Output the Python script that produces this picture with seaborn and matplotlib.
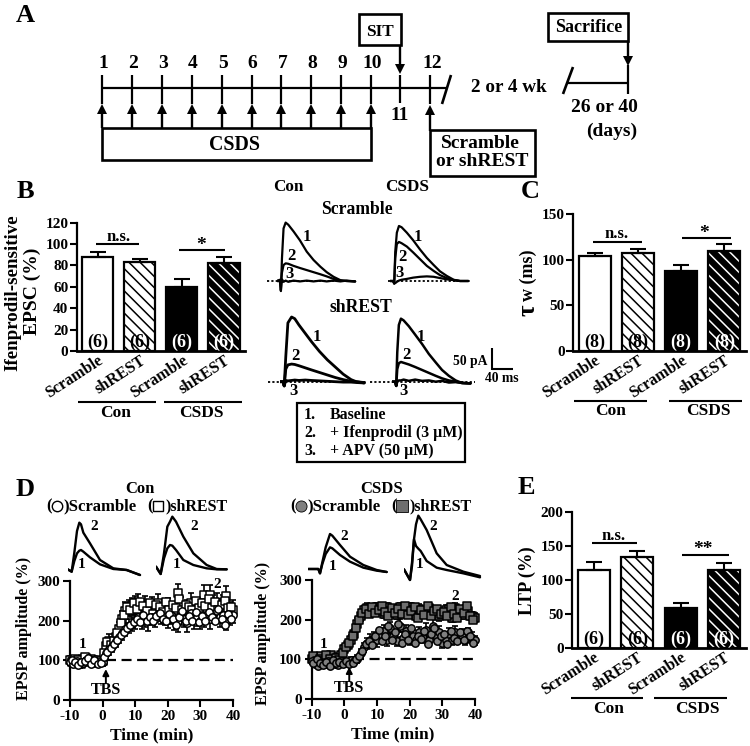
"""Multi-panel figure: CSDS timeline, NMDA EPSC bars, LTP time courses."""
import matplotlib
matplotlib.use("Agg")
import matplotlib.pyplot as plt
from matplotlib.patches import Rectangle
from matplotlib.transforms import ScaledTranslation
import seaborn as sns

W, H = 750, 746

# ============================================
# Data
# ============================================
GROUPS = ["Con Scramble", "Con shREST", "CSDS Scramble", "CSDS shREST"]
BAR_LABELS = ["Scramble", "shREST", "Scramble", "shREST"]

B_VALUES = [88, 83, 59.5, 82]
B_ERRORS = [5, 3.5, 7.5, 5.5]
B_NS = ["(6)", "(6)", "(6)", "(6)"]
B_TICKS = [0, 20, 40, 60, 80, 100, 120]

C_VALUES = [104, 107, 88, 110]
C_ERRORS = [3, 5, 6, 7]
C_NS = ["(8)", "(8)", "(8)", "(8)"]
C_TICKS = [0, 50, 100, 150]

E_VALUES = [115, 134, 59, 114]
E_ERRORS = [12, 9, 7, 11]
E_NS = ["(6)", "(6)", "(6)", "(6)"]
E_TICKS = [0, 50, 100, 150, 200]

TIME_MIN = list(range(-10, 41))
TIME_HALF = [t + 0.5 for t in range(-10, 40)]
D_XTICKS = [-10, 0, 10, 20, 30, 40]
D_YTICKS = [0, 100, 200, 300]

CON_SCR = [97, 92, 98, 90, 94, 100, 103, 99, 95, 97,
           95, 118, 128, 135, 148, 158, 168, 178, 186, 192,
           198, 210, 200, 205, 198, 208, 205, 218, 212, 208,
           204, 215, 202, 198, 212, 205, 195, 220, 205, 210,
           200, 208, 215, 205, 218, 225, 208, 215, 200, 210,
           215]
CON_SCR_H = [100, 95, 88, 96, 98, 105, 92, 101, 90, 94,
             108, 122, 130, 142, 152, 165, 172, 182, 190, 196,
             205, 196, 215, 200, 210, 198, 212, 220, 205, 200,
             218, 205, 190, 208, 225, 198, 212, 200, 222, 196,
             212, 198, 222, 208, 200, 230, 205, 190, 218, 205]
CON_SCR_ERR = [8, 10, 7, 9, 8, 10, 9, 11, 8, 12,
               10, 12, 14, 15, 14, 15, 16, 16, 18, 17,
               20, 22, 20, 22, 24, 20, 22, 18, 20, 20,
               22, 24, 25, 26, 24, 22, 24, 20, 26, 24,
               22, 24, 22, 26, 24, 20, 24, 22, 24, 22,
               20]
CON_SH = [102, 98, 95, 100, 104, 105, 99, 100, 97, 96,
          98, 135, 150, 142, 160, 178, 205, 225, 232, 236,
          238, 240, 228, 235, 222, 238, 232, 245, 228, 235,
          232, 225, 226, 269, 238, 222, 230, 245, 232, 228,
          235, 265, 232, 265, 238, 245, 232, 240, 262, 225,
          228]
CON_SH_H = [96, 104, 100, 92, 108, 97, 103, 94, 101, 99,
            118, 145, 138, 150, 170, 195, 215, 235, 228, 245,
            230, 248, 238, 225, 245, 218, 240, 235, 222, 248,
            228, 240, 232, 255, 226, 240, 235, 228, 250, 232,
            245, 238, 255, 232, 248, 228, 240, 250, 232, 235]
CON_SH_ERR = [8, 9, 8, 10, 9, 8, 10, 9, 8, 10,
              10, 14, 16, 15, 16, 18, 20, 22, 20, 22,
              24, 26, 22, 28, 24, 22, 20, 22, 22, 20,
              24, 22, 20, 24, 22, 24, 22, 24, 22, 24,
              22, 24, 26, 24, 26, 24, 22, 24, 26, 22,
              24]
CSDS_SCR = [95, 88, 84, 90, 87, 95, 92, 88, 85, 96,
            92, 90, 98, 95, 102, 115, 130, 140, 150, 155,
            148, 165, 172, 150, 178, 160, 145, 185, 155, 172,
            150, 160, 148, 168, 155, 175, 150, 185, 158, 170,
            140, 150, 165, 148, 170, 155, 162, 150, 168, 155,
            148]
CSDS_SCR_H = [90, 100, 92, 86, 94, 84, 98, 90, 93, 88,
              95, 88, 92, 100, 108, 122, 138, 145, 135, 160,
              175, 145, 160, 185, 150, 170, 190, 140, 165, 148,
              178, 142, 160, 152, 172, 138, 165, 180, 145, 160,
              165, 138, 172, 155, 145, 168, 150, 172, 160, 142]
CSDS_SCR_ERR = [7, 8, 6, 8, 7, 9, 8, 7, 8, 9,
                8, 8, 9, 10, 10, 11, 12, 14, 15, 14,
                16, 15, 14, 16, 15, 14, 12, 16, 14, 15,
                14, 15, 13, 14, 15, 16, 14, 16, 13, 15,
                12, 14, 15, 12, 13, 12, 14, 13, 12, 13,
                12]
CSDS_SH = [100, 105, 92, 108, 98, 105, 110, 96, 105, 112,
           125, 135, 150, 165, 190, 208, 225, 230, 222, 228,
           232, 228, 215, 232, 222, 225, 212, 232, 225, 218,
           232, 225, 210, 228, 215, 222, 230, 212, 218, 208,
           215, 225, 228, 205, 230, 218, 212, 225, 222, 208,
           205]
CSDS_SH_H = [108, 96, 102, 95, 110, 100, 92, 104, 98, 115,
             130, 142, 158, 178, 200, 218, 226, 215, 232, 218,
             225, 235, 220, 208, 230, 218, 228, 215, 235, 212,
             222, 232, 205, 225, 212, 235, 208, 222, 228, 215,
             220, 210, 232, 215, 205, 228, 218, 235, 210, 198]
CSDS_SH_ERR = [8, 9, 7, 9, 8, 9, 8, 8, 9, 8,
               10, 10, 12, 12, 13, 12, 10, 12, 10, 12,
               10, 12, 11, 10, 12, 11, 10, 10, 12, 10,
               11, 12, 10, 12, 11, 10, 12, 10, 11, 12,
               11, 12, 10, 12, 11, 12, 10, 12, 11, 12,
               12]

# whole-cell traces, ms and pA from the start of the sweep
T_EPSC = [0, 6, 8, 10, 13, 17, 22, 32, 44, 57, 70, 83, 95, 108, 121, 133, 149]
T_EPSC_SH = [0, 6, 8, 11, 15, 22, 28, 36, 48, 60, 75, 90, 105, 120, 135, 145, 160]
CON_SCR_1 = [0, 0, -24, 54, 125, 139, 134, 118, 97, 70, 50, 34, 21, 10, 2, 0, -1]
CON_SCR_2 = [0, 0, -5, 20, 38, 42, 41, 36, 31, 26, 21, 16, 11, 5, 1, 0, -1]
CON_SCR_3 = [0, 3, -22, 4, -2, 1, -2, 1, -1, 1, -1, 1, -1, 1, -1, 1, -1]
CSD_SCR_1 = [0, 0, -6, 70, 115, 131, 128, 115, 97, 75, 55, 38, 23, 12, 3, 0, 0]
CSD_SCR_2 = [0, 0, -6, 55, 88, 93, 90, 82, 68, 52, 36, 24, 14, 7, 2, 0, 0]
CSD_SCR_3 = [0, 0, -6, -5, -2, 1, 3, 5, 8, 10, 11, 10, 7, 4, 2, 0, 0]
CON_SHR_1 = [0, 0, -10, 60, 140, 154, 150, 135, 115, 95, 72, 52, 35, 18, 5, 0, -3]
CON_SHR_2 = [0, 0, -10, 30, 40, 42, 41, 38, 33, 28, 22, 16, 10, 5, 1, 0, -2]
CON_SHR_3 = [0, 0, -10, 3, 2, 3, 4, 3, 4, 3, 2, 1, 0, -1, -1, -2, -3]
CSD_SHR_1 = [0, 0, -10, 70, 135, 150, 146, 132, 112, 90, 66, 46, 28, 14, 3, -3, -4]
CSD_SHR_2 = [0, 0, -10, 30, 44, 47, 45, 41, 35, 28, 21, 14, 8, 3, 0, -3, -4]
CSD_SHR_3 = [0, 0, -10, 0, 3, 3, 5, 2, 5, 2, 3, 0, 2, -2, -1, -3, -4]

# field EPSP traces, arbitrary units from the start of the sweep
T_FP_A = [0, 12, 20, 28, 35, 40, 47, 67, 97, 137, 177, 217]
FP_A_2 = [0, -7, 50, 115, 140, 135, 110, 78, 28, 3, -2, -17]
FP_A_1 = [0, -7, 25, 48, 56, 58, 53, 36, 15, 1, -2, -17]
T_FP_B = [0, 14, 24, 34, 42, 49, 60, 82, 112, 152, 182, 212]
FP_B_2 = [0, -22, 40, 120, 135, 150, 135, 90, 40, 5, -7, -8]
FP_B_1 = [0, -22, 25, 55, 65, 63, 50, 20, 5, -5, -8, -8]
T_FP_C = [0, 30, 35, 42, 52, 65, 72, 95, 125, 165, 205, 235]
FP_C_2 = [0, 0, -13, 20, 65, 105, 100, 72, 37, 12, -3, -9]
FP_C_1 = [0, 0, -13, 15, 45, 65, 62, 42, 22, 4, -5, -9]
T_FP_D = [0, 18, 24, 30, 36, 43, 50, 68, 98, 128, 178, 228]
FP_D_2 = [0, -32, 10, 90, 135, 161, 150, 118, 48, 13, -7, -20]
FP_D_1 = [0, -32, 20, 90, 70, 62, 55, 25, 5, -2, -12, -24]

DAYS_TOP = ["1", "2", "3", "4", "5", "6", "7", "8", "9", "10"]

# ============================================
# Style
# ============================================
sns.set_theme(style="ticks")
plt.rcParams["font.family"] = ["Liberation Serif", "DejaVu Serif"]
plt.rcParams["font.weight"] = "bold"
plt.rcParams["axes.labelweight"] = "bold"
plt.rcParams["hatch.linewidth"] = 1.1
plt.rcParams["text.color"] = "black"
plt.rcParams["xtick.color"] = "black"
plt.rcParams["ytick.color"] = "black"
plt.rcParams["axes.edgecolor"] = "black"
plt.rcParams["axes.unicode_minus"] = False

TICK_SIZE = 11
fig = plt.figure(figsize=(W / 100, H / 100), dpi=100, facecolor="white")


def px_axes(left, top, right, bottom):
    return fig.add_axes([left / W, 1 - bottom / H, (right - left) / W, (bottom - top) / H])


ov = px_axes(0, 0, W, H)
ov.set_xlim(0, W)
ov.set_ylim(H, 0)
ov.axis("off")
ov.set_zorder(10)
ov.patch.set_visible(False)


def label(x, y, s, size=TICK_SIZE, **kw):
    kw.setdefault("ha", "center")
    kw.setdefault("va", "center")
    ov.text(x, y, s, fontsize=size, fontweight="bold", color="black", **kw)


def seg(x0, y0, x1, y1, lw=1.5, **kw):
    ov.plot([x0, x1], [y0, y1], color="black", lw=lw, solid_capstyle="butt", **kw)


def box(x0, y0, x1, y1, lw=1.9):
    ov.add_patch(Rectangle((x0, y0), x1 - x0, y1 - y0, fill=False, ec="black", lw=lw))


def up_arrow(x, tip, tail):
    seg(x, tip + 6, x, tail, lw=1.7)
    ov.plot([x], [tip + 4.5], marker="^", ms=6.5, color="black", mew=0)


def down_arrow(x, tip, tail):
    seg(x, tail, x, tip - 6, lw=1.7)
    ov.plot([x], [tip - 4.5], marker="v", ms=6.5, color="black", mew=0)


# ============================================
# Bars
# ============================================
def bar_panel(rect, values, errors, ns, ticks, ymax):
    ax = px_axes(*rect)
    sns.barplot(x=GROUPS, y=values, hue=GROUPS, palette=["white", "white", "black", "black"],
                width=0.74, legend=False, ax=ax, linewidth=0, saturation=1)
    bars = ax.patches
    bars[1].set_hatch("\\\\\\")
    bars[1].set_edgecolor("black")
    bars[3].set_hatch("\\\\\\")
    bars[3].set_edgecolor("white")
    for b in bars:
        ax.add_patch(Rectangle(b.get_xy(), b.get_width(), b.get_height(),
                               fill=False, ec="black", lw=1.6, zorder=3))
    for i, (v, e) in enumerate(zip(values, errors)):
        ax.errorbar(i, v, yerr=[[0], [e]], color="black", capsize=5.5, capthick=1.5,
                    elinewidth=1.5, zorder=2)
    for i, n in enumerate(ns):
        ax.annotate(n, (i, 0), xytext=(0, 0), textcoords="offset points", ha="center",
                    va="bottom", fontsize=13, fontweight="bold",
                    color="black" if i < 2 else "white", zorder=4)
    ax.set_xlim(-0.5, 3.5)
    ax.set_ylim(0, ymax)
    ax.set_yticks(ticks)
    ax.set_xticks(range(4))
    ax.set_xticklabels(BAR_LABELS, rotation=33, ha="right", rotation_mode="anchor", fontsize=11.6)
    nudge = ScaledTranslation(3 / 72, 0, fig.dpi_scale_trans)
    for t in ax.get_xticklabels():
        t.set_transform(t.get_transform() + nudge)
    ax.tick_params(axis="x", length=0, pad=1)
    ax.tick_params(axis="y", length=5, width=1.5, labelsize=TICK_SIZE, pad=1)
    ax.patch.set_visible(False)
    sns.despine(ax=ax)
    ax.spines["left"].set_linewidth(1.6)
    ax.spines["bottom"].set_linewidth(2)
    return ax


bar_panel((76.7, 222.7, 245, 351), B_VALUES, B_ERRORS, B_NS, B_TICKS, 120)
bar_panel((573, 214, 746, 351), C_VALUES, C_ERRORS, C_NS, C_TICKS, 150)
bar_panel((572, 512, 746, 648), E_VALUES, E_ERRORS, E_NS, E_TICKS, 200)

# significance brackets and group rules
seg(96, 244, 139, 244)
label(119, 237, "n.s.", size=12)
seg(179, 249.5, 225, 249.5)
label(201, 245, "*", size=14)
seg(593, 242, 642, 242)
label(617, 234, "n.s.", size=12)
seg(682, 238, 731, 238)
label(704, 233, "*", size=14)
seg(592, 543, 637, 543)
label(614, 536, "n.s.", size=12)
seg(682, 555, 729, 555)
label(703, 550, "**", size=14)

for y, c1, c2 in [(402, (78, 156), (164, 242)), (401, (574, 647), (669, 742)), (698, (571, 643), (654, 727))]:
    seg(c1[0], y, c1[1], y)
    seg(c2[0], y, c2[1], y)
label(116, 413, "Con", size=12.5)
label(201, 413, "CSDS", size=12.5)
label(611, 411, "Con", size=12.5)
label(708, 411, "CSDS", size=12.5)
label(609, 709, "Con", size=12.5)
label(697, 709, "CSDS", size=12.5)

label(13, 293, "Ifenprodil-sensitive", size=13.6, rotation=90)
label(32, 291, "EPSC (%)", size=14, rotation=90)
label(528, 310, "\u03c4", size=18, rotation=90)
label(528, 275, "w (ms)", size=13, rotation=90)
label(527, 581, "LTP (%)", size=13.3, rotation=90)


# ============================================
# Time courses
# ============================================
def ltp_panel(rect, series, tbs, line_from, tip, tail, text_y):
    ax = px_axes(*rect)
    for vals, half, errs, marker, fc in series:
        ax.errorbar(TIME_MIN, vals, yerr=errs, fmt="none", ecolor="black",
                    elinewidth=1.2, capsize=2.5, capthick=1.2, zorder=2, clip_on=False)
        sns.scatterplot(x=TIME_MIN + TIME_HALF, y=vals + half, marker=marker, s=28, color=fc,
                        edgecolor="black", linewidth=1.1, ax=ax, zorder=3, clip_on=False)
    ax.plot([line_from, 40], [100, 100], color="black", lw=1.6, ls=(0, (4.5, 2.5)), zorder=1)
    ax.set_xlim(-10, 40)
    ax.set_ylim(0, 300)
    ax.set_xticks(D_XTICKS)
    ax.set_yticks(D_YTICKS)
    ax.tick_params(axis="both", length=5, width=1.5, labelsize=TICK_SIZE, pad=2)
    ax.patch.set_visible(False)
    sns.despine(ax=ax)
    ax.spines["left"].set_linewidth(1.6)
    ax.spines["bottom"].set_linewidth(1.6)
    ax.annotate("", xy=(tbs, tip), xytext=(tbs, tail),
                arrowprops=dict(arrowstyle="-|>", color="black", lw=1.4, mutation_scale=9, shrinkA=0, shrinkB=0))
    ax.text(tbs, text_y, "TBS", ha="center", va="center", fontsize=TICK_SIZE + 0.5, fontweight="bold")
    return ax


ltp_panel((70, 581, 233, 700),
          [(CON_SH, CON_SH_H, CON_SH_ERR, "s", "white"),
           (CON_SCR, CON_SCR_H, CON_SCR_ERR, "o", "white")], 1, 1, 78, 42, 25)
ltp_panel((311.7, 580, 475, 699),
          [(CSDS_SH, CSDS_SH_H, CSDS_SH_ERR, "s", "#6e6e6e"),
           (CSDS_SCR, CSDS_SCR_H, CSDS_SCR_ERR, "o", "#808080")], 1.5, 3, 81, 45, 27)

label(152, 735, "Time (min)", size=12.5)
label(393, 734, "Time (min)", size=12.5)
label(24, 628, "EPSP amplitude (%)", size=11.6, rotation=90)
label(263, 633, "EPSP amplitude (%)", size=11.6, rotation=90)
label(83, 645, "1", size=TICK_SIZE)
label(217, 584, "2", size=TICK_SIZE)
label(324, 645, "1", size=TICK_SIZE)
label(455, 597, "2", size=TICK_SIZE)

label(140, 489, "Con", size=12)
label(382, 489, "CSDS", size=12)
label(49, 506, "(", size=12)
label(63, 506, ")Scramble", size=12, ha="left")
ov.plot([57], [506], marker="o", ms=7.5, mfc="white", mec="black", mew=1)
label(150, 506, "(", size=12)
label(165, 506, ")shREST", size=11.5, ha="left")
ov.plot([158], [506], marker="s", ms=7.5, mfc="white", mec="black", mew=1)
label(293, 506, "(", size=12)
label(307, 506, ")Scramble", size=12, ha="left")
ov.plot([301], [506], marker="o", ms=8, mfc="#808080", mec="black", mew=0.6)
label(394, 506, "(", size=12)
label(410, 506, ")shREST", size=11.5, ha="left")
ov.plot([402], [506], marker="s", ms=8, mfc="#6e6e6e", mec="black", mew=0.6)


# ============================================
# Example traces
# ============================================
def trace_panel(x0, base, width, unit_x, unit_y, times, traces, lw=1.5):
    up, down = 75, 15
    ax = px_axes(x0, base - up, x0 + width, base + down)
    ax.set_xlim(0, width * unit_x)
    ax.set_ylim(-down * unit_y, up * unit_y)
    ax.axis("off")
    ax.patch.set_visible(False)
    for vals in traces:
        sns.lineplot(x=times, y=vals, estimator=None, sort=False, color="black", lw=lw, ax=ax)


MS_PER_PX, PA_PER_PX = 1.9, 2.38
trace_panel(276.7, 281, 85, MS_PER_PX, PA_PER_PX, T_EPSC, [CON_SCR_1, CON_SCR_2, CON_SCR_3], lw=1.6)
trace_panel(390, 281, 80, MS_PER_PX, PA_PER_PX, T_EPSC, [CSD_SCR_1, CSD_SCR_2, CSD_SCR_3], lw=1.6)
trace_panel(280, 381.7, 90, MS_PER_PX, PA_PER_PX, T_EPSC_SH, [CON_SHR_1, CON_SHR_2, CON_SHR_3], lw=2)
trace_panel(392, 381.7, 85, MS_PER_PX, PA_PER_PX, T_EPSC, [CSD_SHR_1, CSD_SHR_2, CSD_SHR_3], lw=1.8)

for y, spans in [(281, [(266.7, 355), (388, 463)]), (381.7, [(268, 367), (370, 475)])]:
    for a, b in spans:
        ov.plot([a, b], [y, y], color="black", lw=1.3, ls=(0, (1.2, 1.2)))

label(288, 187, "Con", size=12.3)
label(407, 187, "CSDS", size=12.3)
label(357, 209, "Scramble", size=12.7)
label(361, 307, "shREST", size=12.8)
for x, y, s in [(307, 237, "1"), (291, 256, "2"), (289, 274, "3"),
                (418, 237, "1"), (402, 257, "2"), (400, 273, "3"),
                (317, 337, "1"), (295, 356, "2"), (294, 391, "3"),
                (421, 337, "1"), (406, 355, "2"), (403, 391, "3")]:
    label(x, y, s, size=12)

seg(492, 348, 492, 369.5, lw=1.5)
seg(491.5, 369, 513, 369, lw=1.5)
label(470, 361, "50 pA", size=9.8)
label(502, 379, "40 ms", size=9.8, ha="center")

box(297, 403, 465, 462, lw=1.6)
label(304, 415, "1.", ha="left", size=11.4)
label(330, 415, "Baseline", ha="left", size=11.4)
label(304, 433, "2.", ha="left", size=11.4)
label(330, 433, "+ Ifenprodil (3 \u00b5M)", ha="left", size=11.4)
label(304, 451, "3.", ha="left", size=11.4)
label(330, 451, "+ APV (50 \u00b5M)", ha="left", size=11.4)

FP_UNIT = 3.0
trace_panel(203 / 3, 470 + 298 / 3, 75, FP_UNIT, FP_UNIT, T_FP_A, [FP_A_1, FP_A_2], lw=1.7)
trace_panel(468 / 3, 470 + 290 / 3, 75, FP_UNIT, FP_UNIT, T_FP_B, [FP_B_1, FP_B_2], lw=1.7)
trace_panel(250 + 175 / 3, 470 + 297 / 3, 82, FP_UNIT, FP_UNIT, T_FP_C, [FP_C_1, FP_C_2], lw=1.7)
trace_panel(250 + 462 / 3, 470 + 298 / 3, 78, FP_UNIT, FP_UNIT, T_FP_D, [FP_D_1, FP_D_2], lw=1.7)
for x, y, s in [(94, 526, "2"), (82, 565, "1"), (194, 526, "2"), (177, 565, "1"),
                (344, 536, "2"), (333, 566, "1"), (433, 526, "2"), (420, 565, "1")]:
    label(x, y, s, size=TICK_SIZE)

# ============================================
# Panel A timeline
# ============================================
STEP = 29.9
seg(102, 88, 446, 88, lw=1.6)
for i, d in enumerate(DAYS_TOP):
    x = 102 + i * STEP
    label(x + 1, 63, d, size=14)
    seg(x, 75, x, 104, lw=1.6)
    up_arrow(x, 104, 128)
seg(400, 75, 400, 103, lw=1.6)
seg(430, 75, 430, 104, lw=1.6)
label(400, 116, "11", size=14)
label(432, 63, "12", size=14)
seg(451, 75, 442, 104, lw=1.9)
label(509, 88, "2 or 4 wk", size=13.8)
box(102, 128, 371, 160)
label(235, 145, "CSDS", size=14.3)
box(359, 14, 401, 45)
label(380, 32, "SIT", size=12.3)
down_arrow(400, 73, 45)
up_arrow(430, 105, 131)
box(430, 130, 535, 176)
label(480, 143, "Scramble", size=14)
label(482, 162, "or shREST", size=14)
box(548, 13, 628, 41)
label(589, 27, "Sacrifice", size=13)
down_arrow(628, 65, 41)
seg(628, 65, 628, 94, lw=1.6)
seg(567, 83, 628, 83, lw=1.6)
seg(573, 67, 563, 94, lw=1.9)
label(604, 107, "26 or 40", size=14)
label(612, 131, "(days)", size=14)

# panel letters
label(25, 15, "A", size=19)
label(25, 192, "B", size=19)
label(530, 192, "C", size=19)
label(25, 490, "D", size=19)
label(526, 487, "E", size=19)

fig.savefig("out.png", dpi=100)
